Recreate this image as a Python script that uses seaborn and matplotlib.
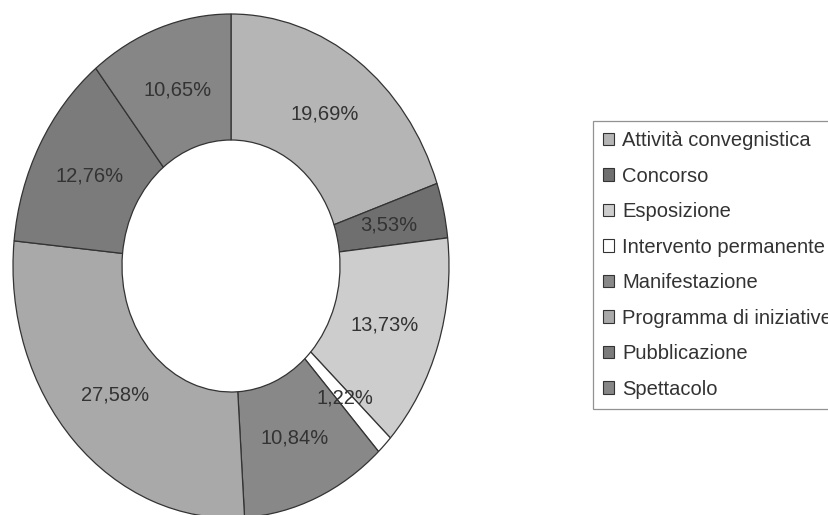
import matplotlib
matplotlib.use("Agg")
import matplotlib.pyplot as plt
import seaborn as sns
from matplotlib.patches import Patch

categories = ["Attività convegnistica", "Concorso", "Esposizione",
              "Intervento permanente", "Manifestazione",
              "Programma di iniziative", "Pubblicazione", "Spettacolo"]
shares = [19.69, 3.53, 13.73, 1.22, 10.84, 27.58, 12.76, 10.65]
colors = ["#b5b5b5", "#6f6f6f", "#cdcdcd", "#ffffff",
          "#888888", "#a9a9a9", "#7b7b7b", "#868686"]

sns.set_style("white")
plt.rcParams["font.family"] = ["Liberation Sans", "DejaVu Sans"]

fig = plt.figure(figsize=(8.29, 5.15), dpi=100)
ax = fig.add_axes([13 / 829, -3 / 515, 436 / 829, 504 / 515])

wedges, texts, autotexts = ax.pie(
    shares, colors=colors, startangle=90, counterclock=False,
    radius=1.0, pctdistance=0.74,
    autopct=lambda p: f"{p:.2f}%".replace(".", ","),
    wedgeprops=dict(width=0.5, edgecolor="#333333", linewidth=0.9),
    textprops=dict(fontsize=14.5, color="#333333"))
ax.set_aspect("auto")
ax.set_xlim(-1.0, 1.0)
ax.set_ylim(-1.0, 1.0)
for w in wedges:
    w.set_clip_on(False)

# legend runs past the right edge, as in the original
handles = [Patch(facecolor=c, edgecolor="#333333", linewidth=0.8) for c in colors]
leg = fig.legend(handles, categories, loc="upper left",
                 bbox_to_anchor=(593 / 829, 1 - 121 / 515),
                 fontsize=14.5, frameon=True, fancybox=False,
                 handlelength=0.55, handleheight=0.55, handletextpad=0.4,
                 labelspacing=0.82, borderpad=0.5, borderaxespad=0)
leg.get_frame().set_edgecolor("#777777")
leg.get_frame().set_linewidth(0.9)
for t in leg.get_texts():
    t.set_color("#333333")

fig.savefig("out.png", dpi=100)
